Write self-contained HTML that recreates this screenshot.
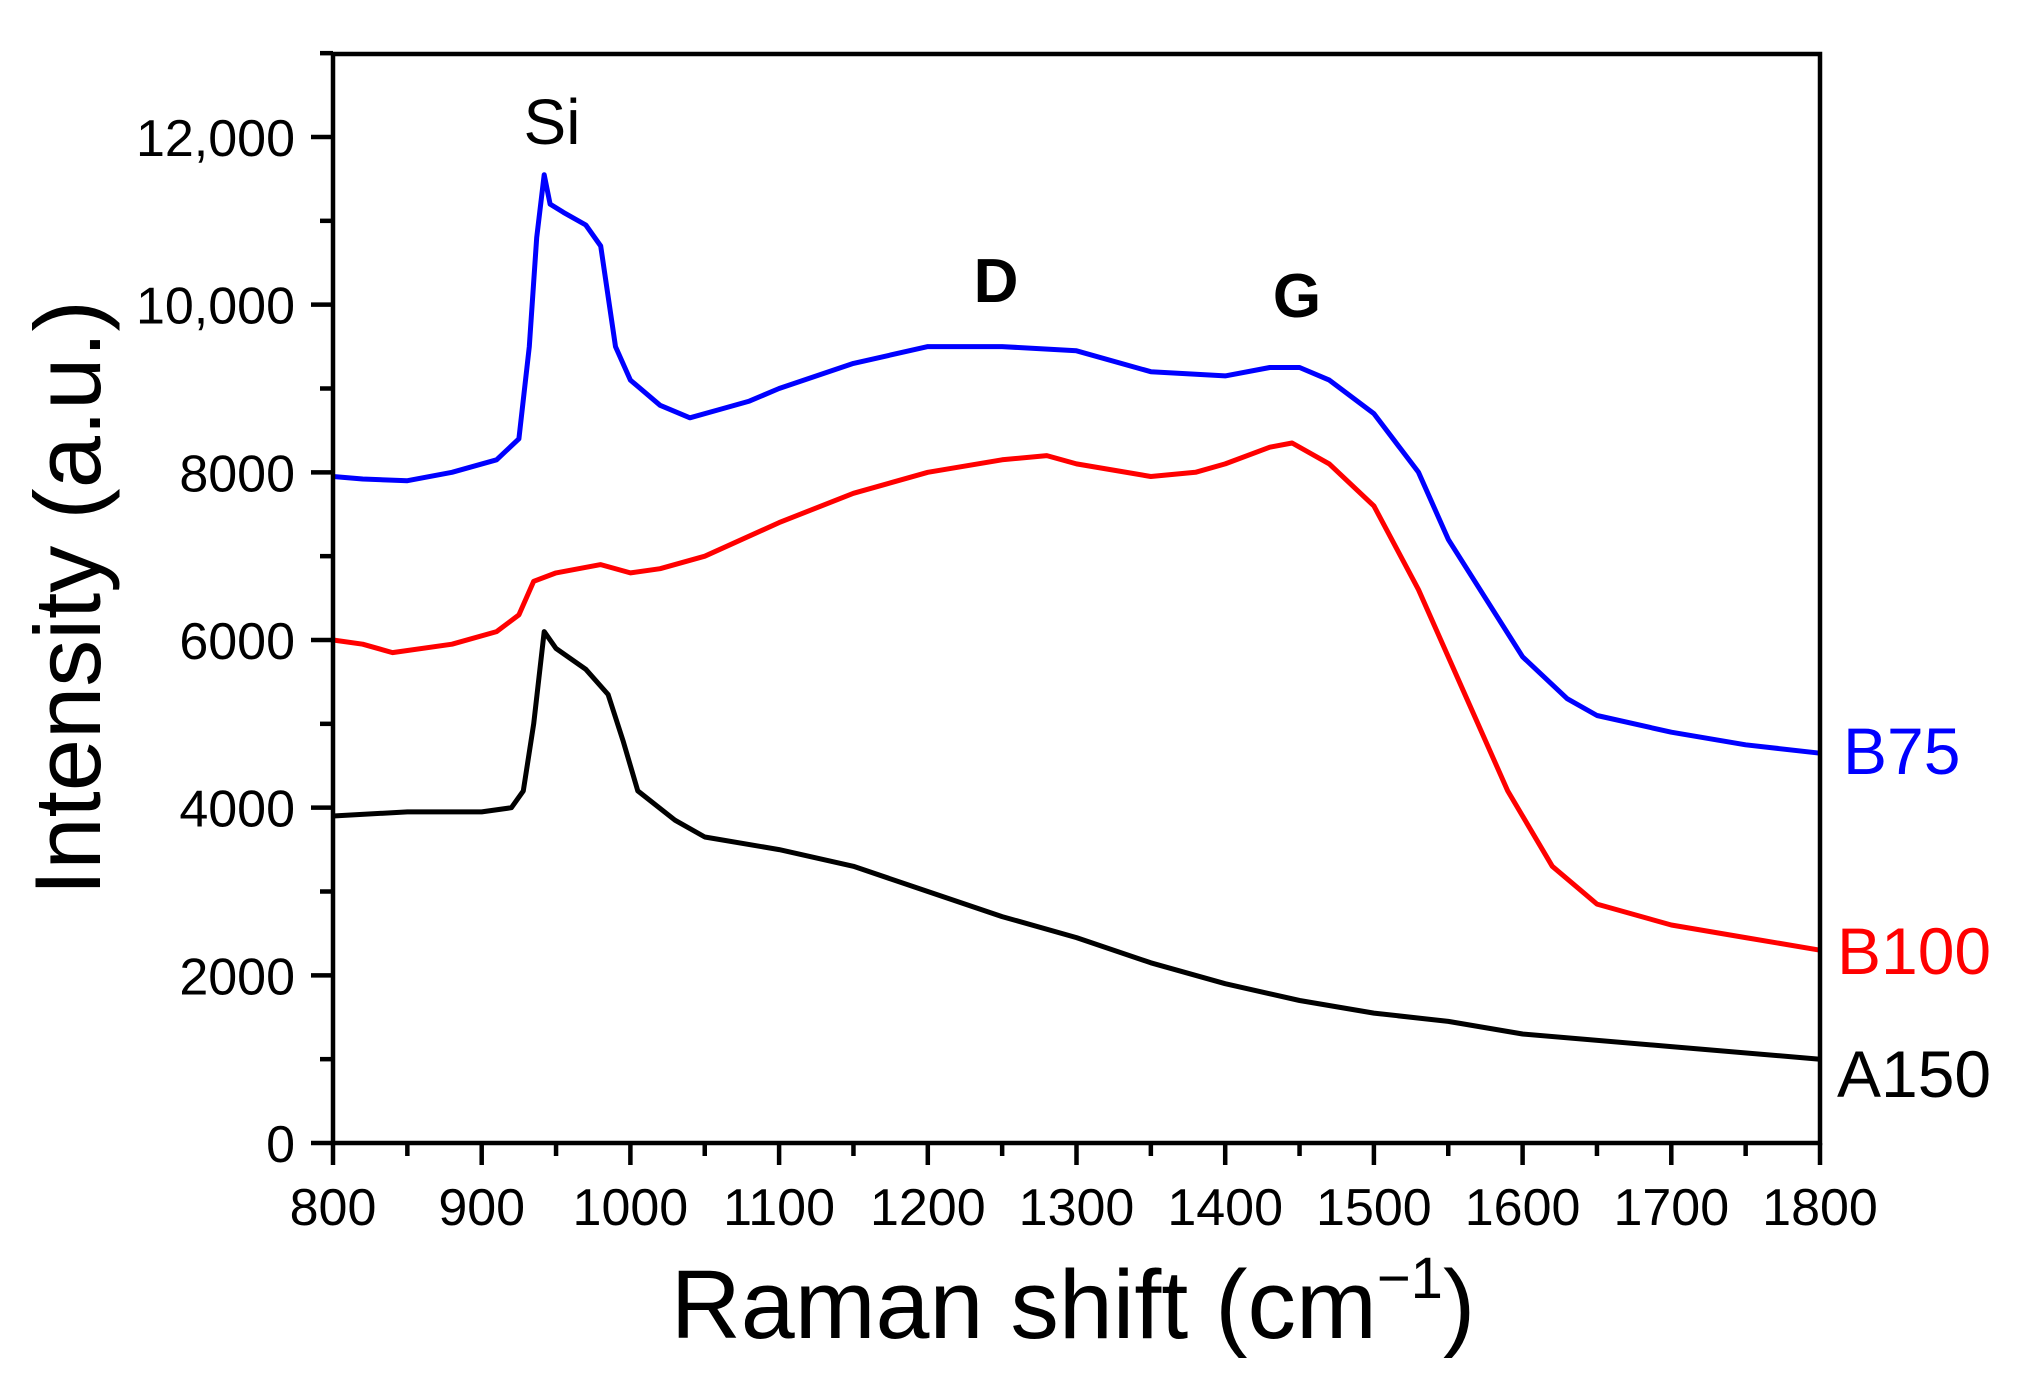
<!DOCTYPE html>
<html><head><meta charset="utf-8"><style>
html,body{margin:0;padding:0;background:#fff;}
svg{display:block;font-family:"Liberation Sans",Arial,sans-serif;}
</style></head><body>
<svg id="chart" width="2026" height="1383" viewBox="0 0 2026 1383" xmlns="http://www.w3.org/2000/svg">
<g id="marks"></g>
<g id="axes"></g>
<text transform="translate(100,598) rotate(-90)" text-anchor="middle" font-size="94">Intensity (a.u.)</text>
<text x="1073" y="1338" text-anchor="middle" font-size="97">Raman shift (cm<tspan dy="-40" font-size="58">−1</tspan><tspan dy="40">)</tspan></text>
<text x="552" y="144" text-anchor="middle" font-size="64">Si</text>
<text x="996" y="302" text-anchor="middle" font-size="62" font-weight="bold">D</text>
<text x="1297" y="317" text-anchor="middle" font-size="62" font-weight="bold">G</text>
<text x="1843" y="774" font-size="66" fill="#0000ff">B75</text>
<text x="1837" y="974" font-size="66" fill="#ff0000">B100</text>
<text x="1837" y="1097" font-size="66" fill="#000">A150</text>
</svg>
<script>
const xTicks=[800,900,1000,1100,1200,1300,1400,1500,1600,1700,1800];
const yTicks=[0,2000,4000,6000,8000,10000,12000];
const yTickLabels=["0","2000","4000","6000","8000","10,000","12,000"];
const b75X=[800,820,850,880,910,925,932,937,942,946,955,970,980,990,1000,1020,1040,1060,1080,1100,1150,1200,1250,1300,1350,1400,1430,1450,1470,1500,1530,1550,1575,1600,1630,1650,1700,1750,1800];
const b75Y=[7950,7920,7900,8000,8150,8400,9500,10800,11550,11200,11100,10950,10700,9500,9100,8800,8650,8750,8850,9000,9300,9500,9500,9450,9200,9150,9250,9250,9100,8700,8000,7200,6500,5800,5300,5100,4900,4750,4650];
const b100X=[800,820,840,880,910,925,935,950,980,1000,1020,1050,1100,1150,1200,1250,1280,1300,1350,1380,1400,1430,1445,1470,1500,1530,1560,1590,1620,1650,1700,1750,1800];
const b100Y=[6000,5950,5850,5950,6100,6300,6700,6800,6900,6800,6850,7000,7400,7750,8000,8150,8200,8100,7950,8000,8100,8300,8350,8100,7600,6600,5400,4200,3300,2850,2600,2450,2300];
const a150X=[800,850,900,920,928,935,942,950,970,985,995,1005,1030,1050,1100,1150,1200,1250,1300,1350,1400,1450,1500,1550,1600,1700,1800];
const a150Y=[3900,3950,3950,4000,4200,5000,6100,5900,5650,5350,4800,4200,3850,3650,3500,3300,3000,2700,2450,2150,1900,1700,1550,1450,1300,1150,1000];

const X0=333,X1=1820,Y0=1143,YTOP=54;
const xs=v=>X0+(v-800)/1000*(X1-X0);
const ys=v=>Y0-v/12000*(Y0-137);
const NS="http://www.w3.org/2000/svg";
const marks=document.getElementById('marks'),axes=document.getElementById('axes');
function mk(tag,attrs,parent){const e=document.createElementNS(NS,tag);for(const k in attrs)e.setAttribute(k,attrs[k]);parent.appendChild(e);return e;}
function series(xa,ya,color,name){
  let d='';xa.forEach((x,i)=>{d+=(i?'L':'M')+xs(x).toFixed(1)+','+ys(ya[i]).toFixed(1);});
  const p=mk('path',{d:d,fill:'none',stroke:color,'stroke-width':5,'stroke-linejoin':'round'},marks);
  
  
}
series(a150X,a150Y,'#000','series-a150');
series(b100X,b100Y,'#ff0000','series-b100');
series(b75X,b75Y,'#0000ff','series-b75');
const frame=mk('rect',{x:X0,y:YTOP,width:X1-X0,height:Y0-YTOP,fill:'none',stroke:'#000','stroke-width':4.5},axes);


xTicks.forEach(v=>{
  const t=mk('line',{x1:xs(v),x2:xs(v),y1:Y0,y2:Y0+22,stroke:'#000','stroke-width':4.5},axes);
  
  
  const l=mk('text',{x:xs(v),y:Y0+82,'text-anchor':'middle','font-size':52},axes);
  l.textContent=v;
  
  
  if(v<1800){const m=mk('line',{x1:xs(v+50),x2:xs(v+50),y1:Y0,y2:Y0+13,stroke:'#000','stroke-width':4.5},axes);
  
  }
});
yTicks.forEach((v,i)=>{
  const t=mk('line',{x1:X0-22,x2:X0,y1:ys(v),y2:ys(v),stroke:'#000','stroke-width':4.5},axes);
  
  
  const l=mk('text',{x:X0-38,y:ys(v)+19,'text-anchor':'end','font-size':52},axes);
  l.textContent=yTickLabels[i];
  
  
  const m=mk('line',{x1:X0-13,x2:X0,y1:ys(v+1000),y2:ys(v+1000),stroke:'#000','stroke-width':4.5},axes);
  
  
});
</script>
</body></html>
